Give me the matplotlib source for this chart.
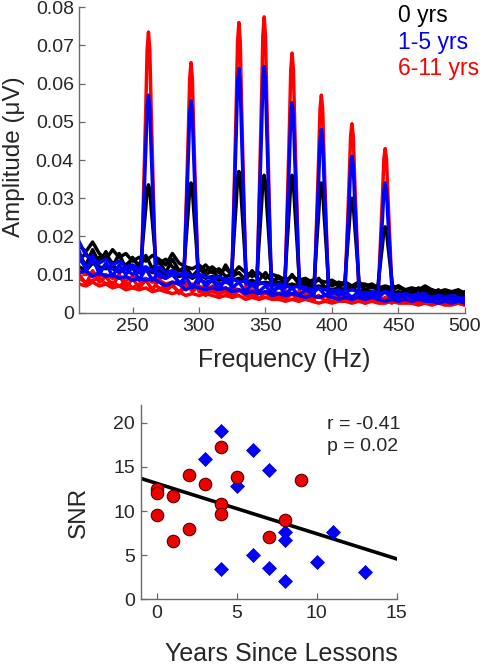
import matplotlib
matplotlib.use('Agg')
import matplotlib.pyplot as plt
import numpy as np

plt.rcParams['font.family'] = ['Liberation Sans', 'DejaVu Sans']

# --- spectrum data (upper panel) ---
noise_freqs = list(range(210, 505, 5))  # Hz

# noise floor traces, values in units of 0.001 µV
black_noise = [
    [17.5, 16.0, 18.5, 15.5, 14.0, 16.5, 14.5, 15.5, 13.5, 14.5,
     13.5, 15.0, 14.0, 12.5, 15.5, 13.0, 12.0, 11.5, 12.5, 11.0,
     12.0, 10.5, 11.5, 10.0, 12.0, 10.5, 9.5, 10.5, 9.0, 10.0,
     9.5, 8.5, 9.5, 8.5, 9.0, 8.0, 8.5, 8.0, 8.5, 7.5,
     8.0, 7.0, 8.0, 7.0, 7.5, 6.5, 7.0, 6.5, 7.0, 6.0,
     6.5, 6.0, 7.0, 6.0, 5.5, 6.0, 5.5, 6.0, 5.0],
    [14.0, 15.5, 13.0, 14.5, 15.0, 13.0, 13.5, 12.5, 14.0, 12.5,
     14.5, 12.5, 13.0, 14.0, 12.0, 11.0, 12.5, 10.5, 11.0, 12.5,
     10.5, 11.5, 9.5, 11.0, 10.0, 9.5, 10.5, 9.0, 9.5, 8.5,
     9.0, 8.0, 8.5, 9.0, 7.5, 8.5, 7.5, 8.0, 7.0, 8.0,
     7.0, 7.5, 6.5, 7.5, 6.5, 6.0, 7.0, 6.0, 6.5, 6.0,
     5.5, 6.5, 5.5, 6.0, 5.0, 5.5, 5.0, 5.5, 4.5],
    [12.0, 11.0, 13.0, 12.0, 11.5, 12.5, 11.0, 12.0, 11.5, 10.5,
     11.5, 10.5, 11.0, 10.0, 10.5, 9.5, 10.0, 9.0, 10.0, 9.0,
     9.5, 8.5, 9.0, 8.5, 9.0, 8.0, 8.5, 7.5, 8.0, 7.5,
     8.0, 7.0, 7.5, 7.0, 7.5, 6.5, 7.0, 6.5, 6.0, 6.5,
     6.0, 6.5, 5.5, 6.0, 5.5, 5.0, 5.5, 5.0, 5.5, 5.0,
     5.0, 4.5, 5.0, 4.5, 5.0, 4.5, 4.0, 4.5, 4.0],
    [15.0, 12.5, 16.5, 13.0, 16.0, 12.0, 15.5, 11.5, 14.5, 12.0,
     15.0, 11.5, 13.5, 10.5, 14.0, 11.0, 12.0, 9.5, 11.5, 10.0,
     11.0, 9.0, 12.5, 9.5, 10.5, 8.5, 11.0, 8.5, 10.5, 8.0,
     9.5, 7.5, 10.0, 7.5, 8.5, 7.0, 9.0, 6.5, 8.0, 7.0,
     7.5, 6.0, 7.5, 6.0, 7.0, 5.5, 6.5, 5.5, 7.0, 5.5,
     6.0, 5.0, 6.5, 5.0, 6.0, 4.5, 5.5, 5.0, 5.5],
]
blue_noise = [
    [18.5, 15.0, 14.0, 13.0, 14.0, 12.5, 13.5, 12.0, 12.5, 11.5,
     12.0, 11.0, 12.0, 10.5, 11.0, 10.0, 10.5, 9.5, 10.0, 9.5,
     9.0, 9.5, 8.5, 9.0, 8.0, 8.5, 7.5, 8.0, 7.5, 7.0,
     7.5, 7.0, 6.5, 7.0, 6.5, 6.0, 6.5, 6.0, 5.5, 6.0,
     5.5, 6.0, 5.5, 5.0, 5.5, 5.0, 5.5, 5.0, 4.5, 5.0,
     4.5, 5.0, 4.5, 4.0, 4.5, 4.0, 4.5, 4.0, 3.5],
    [14.0, 12.0, 13.5, 11.0, 12.5, 11.5, 10.5, 11.5, 10.0, 11.0,
     10.0, 10.5, 9.5, 9.0, 10.0, 8.0, 9.0, 7.5, 8.5, 8.0,
     8.5, 7.5, 8.0, 7.0, 7.5, 6.5, 7.0, 6.5, 7.0, 6.0,
     6.5, 6.0, 6.5, 5.5, 6.0, 5.5, 5.0, 5.5, 5.0, 5.5,
     5.0, 4.5, 5.0, 4.5, 5.0, 4.5, 4.0, 4.5, 4.0, 4.5,
     4.0, 4.5, 3.5, 4.0, 3.5, 4.0, 3.5, 3.0, 3.5],
    [10.5, 11.0, 9.5, 10.5, 9.5, 10.0, 9.0, 9.5, 8.5, 9.0,
     8.5, 9.0, 8.0, 7.0, 8.0, 7.5, 6.0, 7.0, 6.5, 6.0,
     6.5, 6.0, 6.5, 5.5, 6.0, 5.0, 5.5, 5.0, 5.5, 4.5,
     5.0, 4.5, 5.0, 4.5, 4.0, 4.5, 4.0, 4.5, 4.0, 3.5,
     4.0, 3.5, 4.0, 3.5, 4.0, 3.5, 3.0, 3.5, 3.0, 3.5,
     3.0, 3.5, 3.0, 3.0, 2.5, 3.0, 2.5, 3.0, 2.5],
    [16.0, 11.0, 15.0, 10.0, 13.0, 9.5, 12.5, 10.0, 12.0, 8.5,
     11.5, 8.5, 10.5, 9.0, 11.0, 7.5, 9.5, 6.5, 9.5, 7.0,
     8.5, 6.0, 9.0, 6.5, 8.0, 5.5, 7.5, 5.5, 7.0, 5.0,
     7.0, 5.0, 6.5, 4.5, 6.0, 5.0, 6.5, 4.5, 6.0, 4.5,
     5.5, 4.0, 5.5, 4.0, 5.0, 4.0, 5.5, 3.5, 5.0, 4.0,
     4.5, 3.5, 5.0, 3.5, 4.5, 3.5, 4.0, 3.5, 4.0],
]
red_noise = [
    [11.0, 10.0, 10.5, 9.5, 10.0, 9.0, 9.5, 8.5, 9.5, 8.5,
     9.0, 8.0, 8.5, 7.5, 8.0, 7.5, 7.0, 7.5, 6.5, 7.0,
     6.5, 7.0, 6.0, 6.5, 6.0, 5.5, 6.0, 5.5, 5.0, 5.5,
     5.0, 5.5, 5.0, 4.5, 5.0, 4.5, 4.0, 4.5, 4.5, 4.0,
     4.5, 4.0, 4.5, 4.0, 3.5, 4.0, 3.5, 4.0, 3.5, 4.0,
     3.5, 4.0, 3.5, 3.0, 3.5, 3.0, 3.5, 3.0, 3.0],
    [9.0, 8.0, 8.5, 9.0, 7.5, 8.0, 7.0, 8.0, 6.5, 7.5,
     7.0, 7.5, 6.5, 6.0, 7.0, 5.5, 6.5, 6.0, 5.5, 6.0,
     5.5, 5.0, 5.5, 5.0, 4.5, 5.0, 4.5, 4.5, 4.0, 4.5,
     4.0, 4.5, 4.0, 3.5, 4.0, 3.5, 3.0, 3.5, 3.0, 3.5,
     3.5, 3.0, 3.5, 3.0, 3.0, 3.5, 3.0, 2.5, 3.0, 3.0,
     2.5, 3.0, 2.5, 3.0, 2.5, 2.5, 3.0, 2.5, 2.0],
    [7.5, 7.0, 8.0, 7.0, 7.5, 6.5, 7.0, 6.0, 6.5, 6.0,
     6.5, 5.5, 6.0, 5.5, 5.0, 5.5, 4.5, 5.0, 4.5, 5.0,
     4.5, 4.0, 4.5, 4.0, 4.5, 3.5, 4.0, 3.5, 4.0, 3.5,
     3.5, 3.0, 3.5, 3.0, 3.5, 3.0, 2.5, 3.0, 2.5, 3.0,
     3.0, 2.5, 3.0, 2.5, 3.0, 2.5, 2.5, 3.0, 2.5, 2.5,
     2.5, 2.0, 2.5, 2.0, 2.5, 2.0, 2.0, 2.5, 2.0],
    [10.0, 7.5, 11.0, 8.0, 9.5, 7.0, 10.0, 6.5, 9.0, 6.5,
     8.5, 6.0, 9.0, 5.5, 7.5, 5.0, 8.0, 5.5, 7.0, 4.5,
     7.0, 4.5, 6.5, 4.0, 6.0, 4.5, 5.5, 3.5, 5.5, 3.5,
     5.0, 3.5, 5.0, 3.0, 4.5, 3.5, 4.5, 3.0, 4.5, 3.0,
     4.0, 3.0, 4.5, 2.5, 4.0, 3.0, 4.0, 2.5, 3.5, 3.0,
     3.5, 2.5, 4.0, 2.5, 3.5, 2.5, 3.0, 2.5, 3.0],
]

# harmonic peaks
peak_freqs = [262, 294, 330, 349, 370, 392, 415, 440]
black_peaks = [0.0335, 0.034, 0.037, 0.036, 0.036, 0.034, 0.030, 0.0225]
blue_peaks = [0.057, 0.0555, 0.064, 0.0645, 0.055, 0.048, 0.041, 0.034]
red_peaks = [0.0735, 0.0655, 0.076, 0.0775, 0.068, 0.057, 0.0495, 0.043]

group_labels = ['0 yrs', '1-5 yrs', '6-11 yrs']

# --- SNR scatter data (lower panel) ---
circ_years = [0, 0, 0, 1, 1, 2, 2, 3, 4, 4, 4, 5, 7, 8, 9]
circ_snr = [12.5, 12.0, 9.6, 11.7, 6.6, 14.1, 8.0, 13.1, 17.3, 10.8, 9.7, 13.9, 7.1, 9.0, 13.5]
diam_years = [4, 3, 6, 7, 5, 8, 8, 11, 6, 4, 7, 8, 10, 13]
diam_snr = [19.1, 15.9, 16.9, 14.7, 12.8, 7.6, 6.7, 7.6, 5.0, 3.4, 3.6, 2.1, 4.2, 3.1]
fit_slope = -0.57
fit_intercept = 13.13
r_text = 'r = -0.41'
p_text = 'p = 0.02'

# peak drawing shape (offset in Hz, fraction of height)
peak_offsets = [-5.5, -2.0, -1.0, 0.0, 1.0, 2.0, 5.5]
peak_profile = [0.0, 0.70, 0.93, 1.0, 0.93, 0.70, 0.0]


def trace_with_peaks(noise, amps):
    f = np.array(noise_freqs, dtype=float)
    y = np.array(noise) * 1e-3
    pf_arr = np.array(peak_freqs, dtype=float)
    keep = np.all(np.abs(f[:, None] - pf_arr[None, :]) > 5.5, axis=1)
    xs, ys = list(f[keep]), list(y[keep])
    for pf, a in zip(peak_freqs, amps):
        base = np.interp(pf, f, y)
        for off, frac in zip(peak_offsets, peak_profile):
            xs.append(pf + off)
            ys.append(base + frac * (a - base))
    order = np.argsort(xs)
    return np.array(xs)[order], np.array(ys)[order]


fig = plt.figure(figsize=(4.83, 6.66), dpi=100)
spine_col = '#6a6a6a'
tick_col = '#262626'

# upper panel
ax1 = fig.add_axes([0.1642, 0.5305, 0.7985, 0.4585])
groups = [(red_noise, red_peaks, '#ff0000'),
          (black_noise, black_peaks, 'black'),
          (blue_noise, blue_peaks, '#0000ff')]
for noise_set, amps, col in groups:
    for i, tr in enumerate(noise_set):
        if i == 1:
            x, y = trace_with_peaks(tr, amps)
        else:
            x, y = noise_freqs, np.array(tr) * 1e-3
        ax1.plot(x, y, color=col, lw=2.5, solid_joinstyle='round')

ax1.set_xlim(210, 500)
ax1.set_ylim(0, 0.08)
ax1.set_xticks([250, 300, 350, 400, 450, 500])
ax1.set_yticks([0, 0.01, 0.02, 0.03, 0.04, 0.05, 0.06, 0.07, 0.08])
ax1.set_yticklabels(['0', '0.01', '0.02', '0.03', '0.04', '0.05', '0.06', '0.07', '0.08'])
ax1.set_xlabel('Frequency (Hz)', fontsize=18, color=tick_col)
ax1.set_ylabel('Amplitude (\u03bcV)', fontsize=17.5, color=tick_col)
ax1.xaxis.set_label_coords(0.53, -0.115)
ax1.yaxis.set_label_coords(-0.14, 0.51)

legend_cols = ['black', '#0000ff', '#ff0000']
legend_y = [0.967, 0.927, 0.887]
for lab, col, yy in zip(group_labels, legend_cols, legend_y):
    fig.text(0.824, yy, lab, color=col, fontsize=16.5, va='baseline', ha='left')

# lower panel
ax2 = fig.add_axes([0.2913, 0.1001, 0.530, 0.2917])
xl = np.array([-1, 15])
ax2.plot(xl, fit_intercept + fit_slope * xl, color='black', lw=2.6, zorder=2)
ax2.plot(diam_years, diam_snr, 'D', color='#0000ff', ms=7.5, mec='#0000cc',
         mew=0.5, zorder=3)
ax2.plot(circ_years, circ_snr, 'o', color='#ee0000', ms=9, mec='#5a0000',
         mew=0.8, zorder=4)
ax2.set_xlim(-1, 15)
ax2.set_ylim(0, 22)
ax2.set_xticks([0, 5, 10, 15])
ax2.set_yticks([0, 5, 10, 15, 20])
ax2.set_xlabel('Years Since Lessons', fontsize=18, color=tick_col)
ax2.set_ylabel('SNR', fontsize=17.5, color=tick_col)
ax2.xaxis.set_label_coords(0.55, -0.22)
ax2.yaxis.set_label_coords(-0.20, 0.446)
ax2.text(0.727, 0.875, r_text, transform=ax2.transAxes, fontsize=14,
         color=tick_col, va='baseline')
ax2.text(0.727, 0.765, p_text, transform=ax2.transAxes, fontsize=14,
         color=tick_col, va='baseline')

for ax in (ax1, ax2):
    for s in ('top', 'right'):
        ax.spines[s].set_visible(False)
    for s in ('left', 'bottom'):
        ax.spines[s].set_color(spine_col)
        ax.spines[s].set_linewidth(1.0)
    ax.tick_params(direction='in', length=4, width=0.9, color=spine_col,
                   labelsize=14, labelcolor=tick_col, pad=4)

fig.savefig('out.png', dpi=100)
